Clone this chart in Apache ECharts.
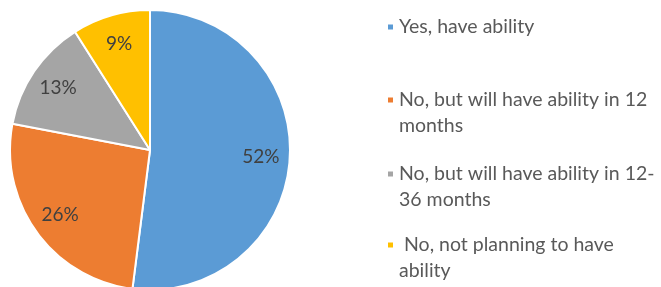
<!DOCTYPE html>
<html><head><meta charset="utf-8">
<script src="https://cdn.jsdelivr.net/npm/echarts@6/dist/echarts.min.js"></script>
<style>html,body{margin:0;padding:0;background:#fff}#c{width:661px;height:287px}</style>
</head><body><div id="c"></div>
<script>
var categories = ["Yes, have ability", "No, but will have ability in 12 months", "No, but will have ability in 12-36 months", "No, not planning to have ability"];
var legendLabels = ["Yes, have ability", "No, but will have ability in 12\nmonths", "No, but will have ability in 12-\n36 months", " No, not planning to have\nability"];
var values = [52, 26, 13, 9];
var colors = ["#5B9BD5", "#ED7D31", "#A5A5A5", "#FFC000"];

var chart = echarts.init(document.getElementById('c'), null, {renderer: 'canvas'});
var pieData = categories.map(function (n, i) { return {name: n, value: values[i]}; });
var legendTops = [14, 61, 135, 206];
var legends = categories.map(function (n, i) {
  var twoLine = legendLabels[i].indexOf('\n') >= 0;
  return {
    data: [n], orient: 'vertical', left: 386, top: legendTops[i], padding: 0,
    icon: 'rect', itemWidth: 7, itemHeight: 7, selectedMode: false,
    formatter: function () { return twoLine ? ' \n' + legendLabels[i] : legendLabels[i]; },
    textStyle: {fontFamily: 'Lato', fontSize: 19.5, color: '#595959', lineHeight: 26}
  };
});
chart.setOption({
  animation: false,
  color: colors,
  legend: legends,
  series: [{
    type: 'pie', center: [150, 150], radius: [0, 140], startAngle: 90, clockwise: true,
    data: pieData,
    itemStyle: {borderColor: '#fff', borderWidth: 2},
    label: {show: false}, labelLine: {show: false}, emphasis: {disabled: true}
  }, {
    type: 'pie', center: [150, 150], radius: [76, 140], startAngle: 90, clockwise: true,
    data: pieData, silent: true, legendHoverLink: false,
    itemStyle: {color: 'rgba(0,0,0,0)', borderWidth: 0},
    label: {show: true, position: 'inside', formatter: '{c}%', fontFamily: 'Lato', fontSize: 19, color: '#404040'},
    labelLine: {show: false}, emphasis: {disabled: true}
  }]
});
</script></body></html>
